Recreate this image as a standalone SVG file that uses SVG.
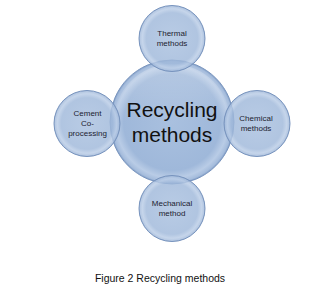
<svg xmlns="http://www.w3.org/2000/svg" width="315" height="299" viewBox="0 0 315 299">
<defs>
<radialGradient id="g" cx="0.5" cy="0.5" r="0.5">
<stop offset="0" stop-color="#a9c0df"/>
<stop offset="0.78" stop-color="#9fb8da"/>
<stop offset="0.9" stop-color="#b9cce6"/>
<stop offset="0.97" stop-color="#a5bcdc"/>
<stop offset="1" stop-color="#7f9cc5"/>
</radialGradient>
<linearGradient id="shine" x1="0" y1="0" x2="0" y2="1">
<stop offset="0" stop-color="#ffffff" stop-opacity="0.25"/>
<stop offset="0.5" stop-color="#ffffff" stop-opacity="0"/>
</linearGradient>
</defs>
<style>
.c{fill:url(#g);stroke:#7894be;stroke-width:1}
.s{fill:url(#g);fill-opacity:0.82;stroke:#7894be;stroke-width:1}
.h{fill:url(#shine);stroke:none}
.t{font-family:"Liberation Sans",Arial,sans-serif;font-size:8px;fill:#1c2230;text-anchor:middle}
.big{font-family:"Liberation Sans",Arial,sans-serif;font-size:21px;fill:#111;text-anchor:middle}
.cap{font-family:"Liberation Sans",Arial,sans-serif;font-size:10.5px;fill:#111;text-anchor:middle}
</style>
<rect width="315" height="299" fill="#fff"/>
<g id="connectors"/>
<g id="center">
<circle class="c" cx="172" cy="122" r="62"/>
<circle class="h" cx="172" cy="122" r="58"/>
<text class="big" x="172" y="117">Recycling</text>
<text class="big" x="172" y="142">methods</text>
</g>
<g id="thermal">
<circle class="s" cx="172" cy="38.5" r="33"/>
<text class="t" x="172" y="36">Thermal</text>
<text class="t" x="172" y="46">methods</text>
</g>
<g id="cement">
<circle class="s" cx="87" cy="123.5" r="33"/>
<text class="t" x="87.5" y="116">Cement</text>
<text class="t" x="87.5" y="126">Co-</text>
<text class="t" x="87.5" y="136">processing</text>
</g>
<g id="chemical">
<circle class="s" cx="257" cy="123.5" r="33"/>
<text class="t" x="256" y="121">Chemical</text>
<text class="t" x="256" y="131">methods</text>
</g>
<g id="mechanical">
<circle class="s" cx="172" cy="208.5" r="33"/>
<text class="t" x="172" y="206">Mechanical</text>
<text class="t" x="172" y="216">method</text>
</g>
<text class="cap" x="160" y="282">Figure 2 Recycling methods</text>
</svg>
